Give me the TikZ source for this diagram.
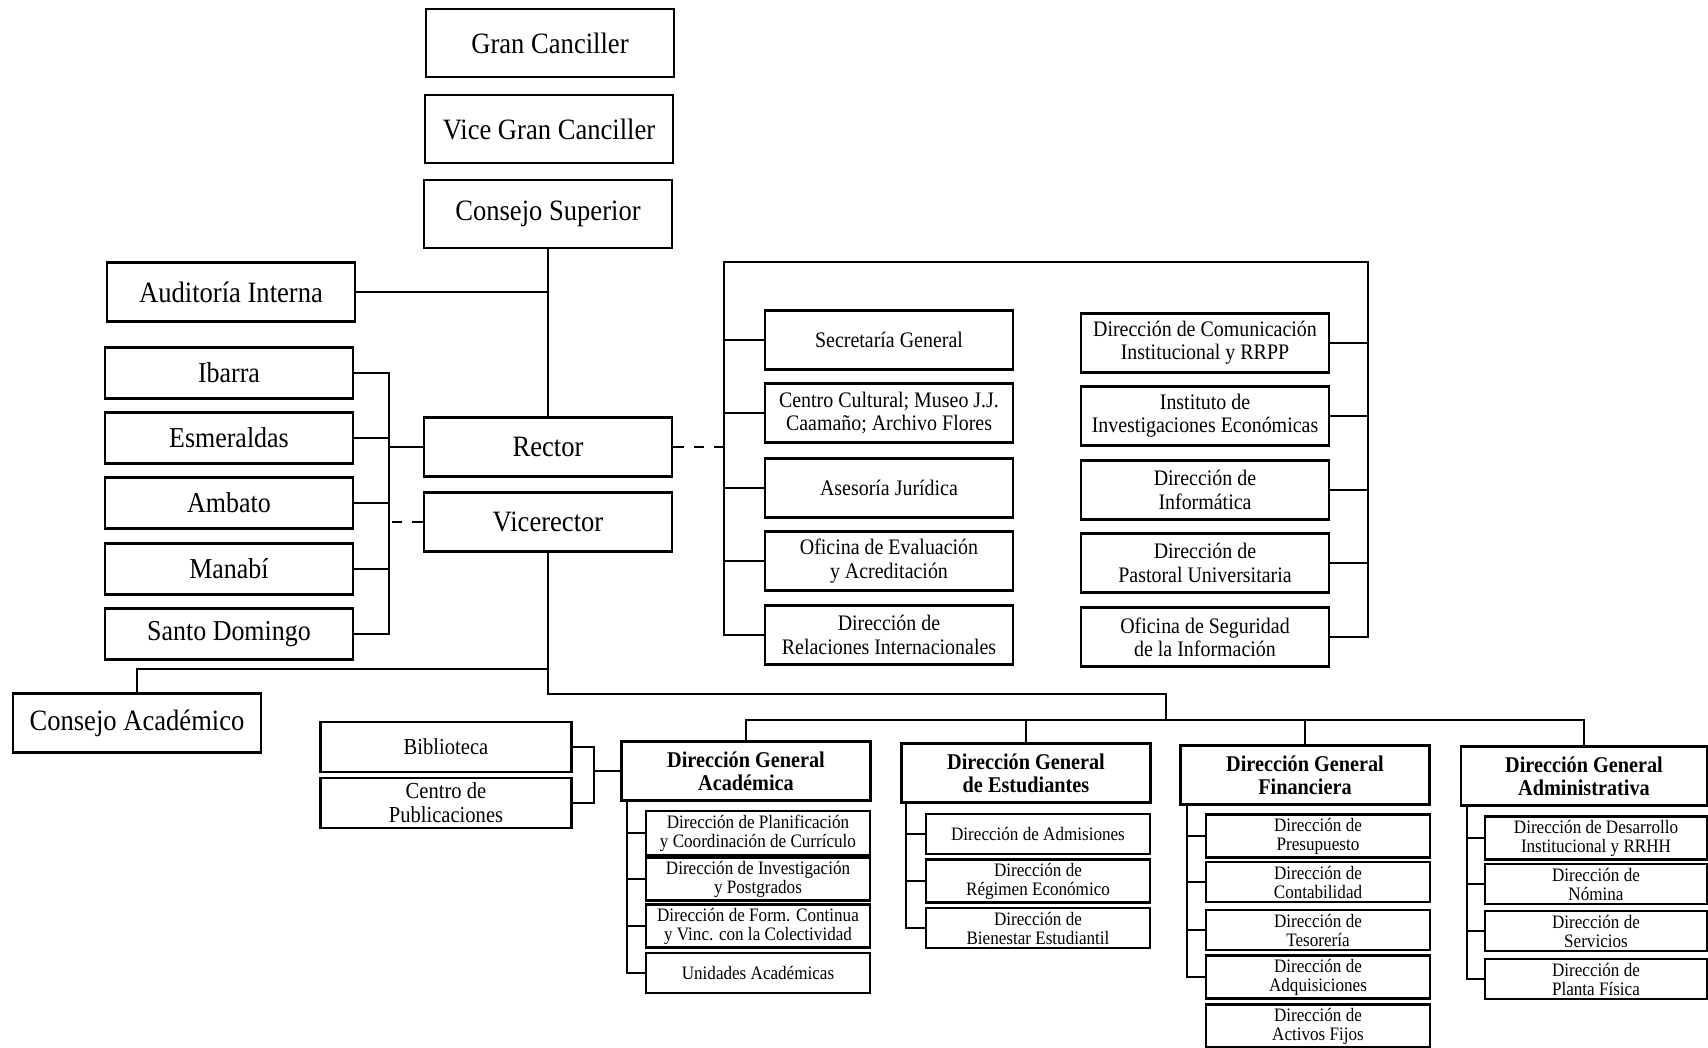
\documentclass[tikz,border=0pt]{standalone}
\usepackage{fontspec}
\setmainfont{Liberation Serif}[FakeStretch=0.9]

\begin{document}
\begin{tikzpicture}[x=0.01cm, y=-0.01cm, line width=0.7pt,
    box/.style={rectangle, draw, inner sep=1pt, align=center},
    topbox/.style={box, minimum width=2.48cm, minimum height=0.68cm, font=\fontsize{8.4}{10}\selectfont},
    midbox/.style={box, minimum width=2.48cm, minimum height=0.59cm, font=\fontsize{8.4}{10}\selectfont},
    sedebox/.style={box, minimum width=2.48cm, minimum height=0.51cm, font=\fontsize{8.2}{10}\selectfont},
    unitbox/.style={box, minimum width=2.48cm, minimum height=0.59cm, font=\fontsize{6.3}{6.6}\selectfont},
    libbox/.style={box, minimum width=2.51cm, minimum height=0.50cm, font=\fontsize{6.5}{6.8}\selectfont},
    dgbox/.style={box, minimum width=2.49cm, minimum height=0.59cm, font=\bfseries\fontsize{6.4}{6.6}\selectfont},
    subbox/.style={box, minimum width=2.24cm, minimum height=0.40cm, font=\fontsize{5.4}{5.4}\selectfont},
    dashlink/.style={dash pattern=on 3pt off 2.8pt}]
    \useasboundingbox (0,0) rectangle (1708,1048);

    % Upper governing bodies
    \node[topbox] (gc) at (550,43) {Gran Canciller};
    \node[topbox] (vgc) at (549,129) {Vice Gran Canciller};
    \node[topbox] (consejo) at (548,214) {Consejo Superior};
    \node[midbox] (auditoria) at (231,292) {Auditoría Interna};
    \node[midbox] (rector) at (548,447) {Rector};
    \node[midbox] (vicerector) at (548,522) {Vicerector};
    \node[midbox] (academico) at (137,723) {Consejo Académico};

    \draw (consejo.south) -- (rector.north);
    \draw (auditoria.east) -- (auditoria.east -| consejo.south);

    % Sedes
    \node[sedebox] (ibarra) at (229,373) {Ibarra};
    \node[sedebox] (esmeraldas) at (229,438) {Esmeraldas};
    \node[sedebox] (ambato) at (229,503) {Ambato};
    \node[sedebox] (manabi) at (229,569) {Manabí};
    \node[sedebox] (stodomingo) at (229,634) {Santo Domingo};

    \coordinate (sedes) at (389,0);
    \draw (ibarra.east) -- (ibarra.east -| sedes) -- (stodomingo.east -| sedes) -- (stodomingo.east);
    \draw (esmeraldas.east) -- (esmeraldas.east -| sedes);
    \draw (ambato.east) -- (ambato.east -| sedes);
    \draw (manabi.east) -- (manabi.east -| sedes);
    \draw (rector.west) -- (rector.west -| sedes);
    \draw[dashlink] (vicerector.west) -- (vicerector.west -| sedes);

    % Staff units of the Rector
    \node[unitbox] (secgen) at (889,340) {Secretaría General};
    \node[unitbox] (centro) at (889,413) {Centro Cultural; Museo J.J.\\Caamaño; Archivo Flores};
    \node[unitbox] (asesoria) at (889,488) {Asesoría Jurídica};
    \node[unitbox] (evaluacion) at (889,561) {Oficina de Evaluación\\y Acreditación};
    \node[unitbox] (relint) at (889,635) {Dirección de\\Relaciones Internacionales};

    \node[unitbox] (comunicacion) at (1205,343) {Dirección de Comunicación\\Institucional y RRPP};
    \node[unitbox] (instituto) at (1205,416) {Instituto de\\Investigaciones Económicas};
    \node[unitbox] (informatica) at (1205,490) {Dirección de\\Informática};
    \node[unitbox] (pastoral) at (1205,563) {Dirección de\\Pastoral Universitaria};
    \node[unitbox] (seguridad) at (1205,637) {Oficina de Seguridad\\de la Información};

    \coordinate (staffl) at (724,262);
    \coordinate (staffr) at (1368,262);
    \draw[dashlink] (rector.east) -- (rector.east -| staffl);
    \draw (relint.west) -- (relint.west -| staffl) -- (staffl) -- (staffr) -- (seguridad.east -| staffr) -- (seguridad.east);
    \draw (secgen.west) -- (secgen.west -| staffl);
    \draw (centro.west) -- (centro.west -| staffl);
    \draw (asesoria.west) -- (asesoria.west -| staffl);
    \draw (evaluacion.west) -- (evaluacion.west -| staffl);
    \draw (comunicacion.east) -- (comunicacion.east -| staffr);
    \draw (instituto.east) -- (instituto.east -| staffr);
    \draw (informatica.east) -- (informatica.east -| staffr);
    \draw (pastoral.east) -- (pastoral.east -| staffr);

    % Direcciones generales
    \node[dgbox] (dga) at (746,771) {Dirección General\\Académica};
    \node[dgbox] (dge) at (1026,773) {Dirección General\\de Estudiantes};
    \node[dgbox] (dgf) at (1305,775) {Dirección General\\Financiera};
    \node[dgbox, minimum width=2.46cm] (dgadm) at (1584,776) {Dirección General\\Administrativa};

    \coordinate (vbend) at (1166,694);
    \coordinate (dgline) at (1166,720);
    \coordinate (cabend) at (548,669);
    \draw (vicerector.south) |- (vbend) -- (dgline);
    \draw (cabend) -| (academico.north);
    \draw (dga.north) -- (dga.north |- dgline) -- (dgadm.north |- dgline) -- (dgadm.north);
    \draw (dge.north) -- (dge.north |- dgline);
    \draw (dgf.north) -- (dgf.north |- dgline);

    % Biblioteca
    \node[libbox] (biblioteca) at (446,747) {Biblioteca};
    \node[libbox] (publicaciones) at (446,803) {Centro de\\Publicaciones};
    \coordinate (bibspine) at (594,0);
    \draw (biblioteca.east) -- (biblioteca.east -| bibspine) -- (publicaciones.east -| bibspine) -- (publicaciones.east);
    \draw (dga.west) -- (dga.west -| bibspine);

    % Academica
    \node[subbox] (planif) at (758,833) {Dirección de Planificación\\y Coordinación de Currículo};
    \node[subbox] (investig) at (758,879) {Dirección de Investigación\\y Postgrados};
    \node[subbox] (formcont) at (758,926) {Dirección de Form. Continua\\y Vinc. con la Colectividad};
    \node[subbox] (unidades) at (758,973) {Unidades Académicas};
    \coordinate (acspine) at (627,0);
    \draw (dga.south -| acspine) -- (unidades.west -| acspine) -- (unidades.west);
    \draw (planif.west) -- (planif.west -| acspine);
    \draw (investig.west) -- (investig.west -| acspine);
    \draw (formcont.west) -- (formcont.west -| acspine);

    % Estudiantes
    \node[subbox] (admisiones) at (1038,834) {Dirección de Admisiones};
    \node[subbox] (regimen) at (1038,881) {Dirección de\\Régimen Económico};
    \node[subbox] (bienestar) at (1038,928) {Dirección de\\Bienestar Estudiantil};
    \coordinate (estspine) at (906,0);
    \draw (dge.south -| estspine) -- (bienestar.west -| estspine) -- (bienestar.west);
    \draw (admisiones.west) -- (admisiones.west -| estspine);
    \draw (regimen.west) -- (regimen.west -| estspine);

    % Financiera
    \node[subbox] (presupuesto) at (1318,836) {Dirección de\\Presupuesto};
    \node[subbox] (contabilidad) at (1318,882) {Dirección de\\Contabilidad};
    \node[subbox] (tesoreria) at (1318,930) {Dirección de\\Tesorería};
    \node[subbox] (adquisiciones) at (1318,977) {Dirección de\\Adquisiciones};
    \node[subbox] (activos) at (1318,1026) {Dirección de\\Activos Fijos};
    \coordinate (finspine) at (1187,0);
    \draw (dgf.south -| finspine) -- (adquisiciones.west -| finspine) -- (adquisiciones.west);
    \draw (presupuesto.west) -- (presupuesto.west -| finspine);
    \draw (contabilidad.west) -- (contabilidad.west -| finspine);
    \draw (tesoreria.west) -- (tesoreria.west -| finspine);

    % Administrativa
    \node[subbox, minimum width=2.22cm] (desarrollo) at (1596,838) {Dirección de Desarrollo\\Institucional y RRHH};
    \node[subbox, minimum width=2.22cm] (nomina) at (1596,884) {Dirección de\\Nómina};
    \node[subbox, minimum width=2.22cm] (servicios) at (1596,931) {Dirección de\\Servicios};
    \node[subbox, minimum width=2.22cm] (planta) at (1596,979) {Dirección de\\Planta Física};
    \coordinate (admspine) at (1467,0);
    \draw (dgadm.south -| admspine) -- (planta.west -| admspine) -- (planta.west);
    \draw (desarrollo.west) -- (desarrollo.west -| admspine);
    \draw (nomina.west) -- (nomina.west -| admspine);
    \draw (servicios.west) -- (servicios.west -| admspine);
\end{tikzpicture}
\end{document}
